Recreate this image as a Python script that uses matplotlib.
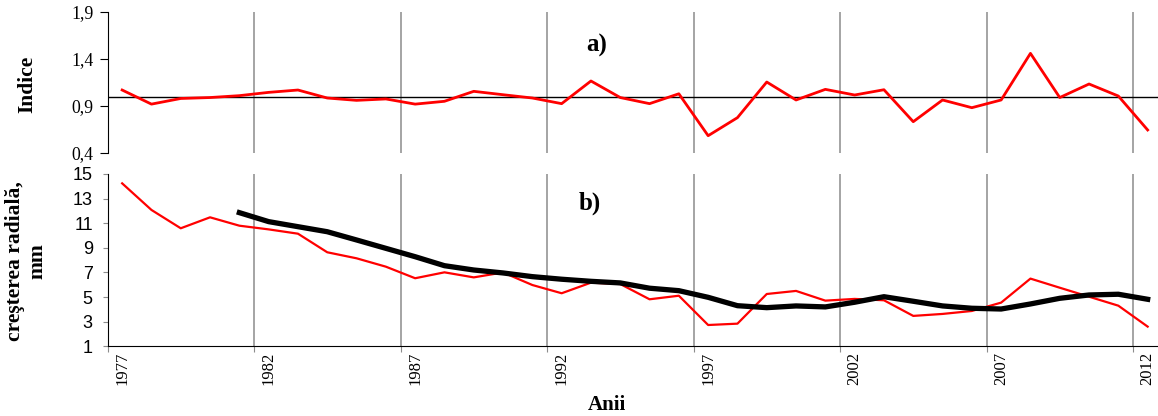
import matplotlib
matplotlib.use("Agg")
import matplotlib.pyplot as plt
from matplotlib.ticker import FixedLocator, FuncFormatter

years = list(range(1977, 2013))

# a) index series
indice = [1.07, 0.92, 0.98, 0.99, 1.01, 1.045, 1.07, 0.985, 0.96, 0.975,
          0.92, 0.95, 1.056, 1.02, 0.985, 0.925, 1.166, 0.99, 0.925, 1.03,
          0.584, 0.776, 1.155, 0.964, 1.077, 1.017, 1.073, 0.733, 0.964, 0.882,
          0.964, 1.46, 0.99, 1.134, 1.006, 0.645]

# b) radial growth (red) and trend (black, from 1981)
crestere = [14.24, 12.08, 10.59, 11.48, 10.8, 10.5, 10.15, 8.64, 8.15, 7.47,
            6.53, 7.01, 6.6, 7.0, 5.98, 5.31, 6.17, 6.06, 4.82, 5.11,
            2.73, 2.84, 5.25, 5.5, 4.71, 4.85, 4.74, 3.47, 3.63, 3.87,
            4.55, 6.5, 5.76, 5.03, 4.3, 2.6]
trend_years = list(range(1981, 2013))
trend = [11.86, 11.13, 10.72, 10.31, 9.64, 8.96, 8.28, 7.55, 7.2, 6.96,
         6.66, 6.45, 6.28, 6.15, 5.72, 5.52, 4.98, 4.3, 4.14, 4.28,
         4.2, 4.58, 5.03, 4.66, 4.28, 4.09, 4.03, 4.44, 4.9, 5.17,
         5.23, 4.82]

top_ticks = [0.4, 0.9, 1.4, 1.9]
bottom_ticks = list(range(1, 16, 2))
label_years = list(range(1977, 2013, 5))

SERIF = "Liberation Serif"
SANS = "Liberation Sans"
GRID = "#8c8c8c"
W, H = 1158, 416


def px(x, y):
    # pixel position (from top-left) -> figure fraction
    return x / W, 1 - y / H


fig = plt.figure(figsize=(W / 100, H / 100), dpi=100)
left, width = 107.5 / W, 1054.8 / W
ax1 = fig.add_axes([left, 1 - 153 / H, width, 141 / H])
ax2 = fig.add_axes([left, 1 - 346.3 / H, width, 172.3 / H])

boundaries = [y - 0.5 for y in label_years]

for ax in (ax1, ax2):
    ax.set_xlim(1976.5, 2012.5)
    for b in boundaries[1:]:
        ax.axvline(b, color=GRID, lw=1.1, zorder=1)
    ax.spines["top"].set_visible(False)
    ax.spines["right"].set_visible(False)
    ax.spines["left"].set_color("black")

# top panel
ax1.axhline(1.0, color="black", lw=1.0, zorder=2)
ax1.plot(years, indice, color="red", lw=2.0, zorder=3)
ax1.set_ylim(0.4, 1.9)
ax1.set_yticks(top_ticks)
ax1.yaxis.set_major_formatter(FuncFormatter(lambda v, p: f"{v:.1f}".replace(".", ",")))
ax1.tick_params(axis="y", direction="out", length=5.5, color="black", pad=4.5)
ax1.spines["bottom"].set_visible(False)
ax1.set_xticks([])
for lab in ax1.get_yticklabels():
    lab.set_fontfamily(SERIF)
    lab.set_fontsize(12.8)
fig.text(*px(27, 84), "Indice", rotation=90, ha="center", va="center",
         family=SERIF, fontweight="bold", fontsize=15.5)
fig.text(*px(597, 45), "a)", ha="center", va="center",
         family=SERIF, fontweight="bold", fontsize=18)

# bottom panel
ax2.plot(years, crestere, color="red", lw=1.6, zorder=3)
ax2.plot(trend_years, trend, color="black", lw=3.8, zorder=4)
ax2.set_ylim(1, 15)
ax2.set_yticks(bottom_ticks)
ax2.tick_params(axis="y", direction="out", length=3.6, color=GRID, pad=7)
for lab in ax2.get_yticklabels():
    lab.set_fontfamily(SANS)
    lab.set_fontsize(13)
ax2.spines["bottom"].set_color("black")
ax2.xaxis.set_major_locator(FixedLocator(boundaries))
ax2.xaxis.set_minor_locator(FixedLocator(label_years))
ax2.xaxis.set_major_formatter(FuncFormatter(lambda v, p: ""))
ax2.xaxis.set_minor_formatter(FuncFormatter(lambda v, p: str(int(round(v)))))
ax2.tick_params(axis="x", which="major", direction="out", length=4.5, color=GRID)
ax2.tick_params(axis="x", which="minor", length=0, pad=4, rotation=90)
for lab in ax2.get_xticklabels(minor=True):
    lab.set_fontfamily(SERIF)
    lab.set_fontsize(12)
fig.text(*px(26, 261), "creşterea radială,\nmm", rotation=90, ha="center",
         va="center", multialignment="center", family=SERIF,
         fontweight="bold", fontsize=15.5, linespacing=1.15)
fig.text(*px(590, 203), "b)", ha="center", va="center",
         family=SERIF, fontweight="bold", fontsize=18)
fig.text(*px(607, 405), "Anii", ha="center", va="center",
         family=SERIF, fontweight="bold", fontsize=15)

fig.savefig("out.png", dpi=100)
